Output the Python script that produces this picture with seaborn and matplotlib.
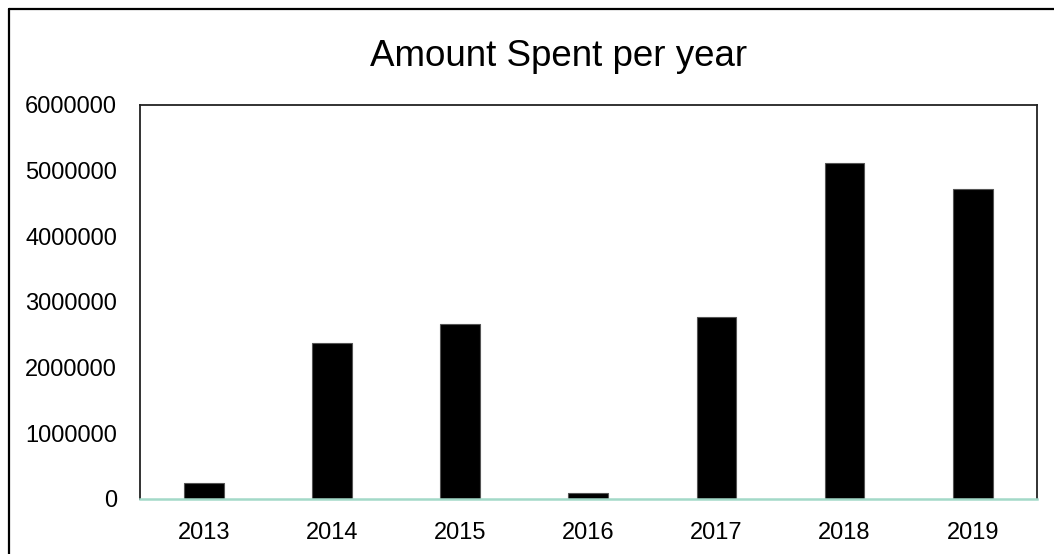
import numpy as np
import pandas as pd
import matplotlib
matplotlib.use("Agg")
import matplotlib.pyplot as plt
import seaborn as sns
from matplotlib.lines import Line2D

# values
years = ["2013", "2014", "2015", "2016", "2017", "2018", "2019"]
amount = [240000, 2375000, 2655000, 82000, 2765000, 5105000, 4710000]
y_ticks = [0, 1000000, 2000000, 3000000, 4000000, 5000000, 6000000]

df = pd.DataFrame({"year": years, "amount": amount})

sns.set_theme(style="white")
plt.rcParams["font.family"] = ["Liberation Sans", "DejaVu Sans"]

fig = plt.figure(figsize=(10.54, 5.54), dpi=100)
W, H = 1054, 554
ax = fig.add_axes([140 / W, 1 - 498.7 / H, (1036.7 - 140) / W, (498.7 - 104.7) / H])

sns.barplot(data=df, x="year", y="amount", color="black", width=0.31,
            edgecolor="#555555", linewidth=0.8, saturation=1, ax=ax)

ax.set_ylim(0, 6000000)
ax.set_xlim(-0.5, len(years) - 0.5)
ax.set_yticks(y_ticks)
ax.set_yticklabels([str(v) for v in y_ticks])
ax.set_xlabel("")
ax.set_ylabel("")
ax.tick_params(axis="y", length=0, pad=16.5, labelsize=17, colors="black")
ax.tick_params(axis="x", length=0, pad=17, labelsize=17, colors="black")

for side in ["left", "top", "right"]:
    ax.spines[side].set_color("#222222")
    ax.spines[side].set_linewidth(1.3)
ax.spines["bottom"].set_color("#a3d9c8")
ax.spines["bottom"].set_linewidth(1.8)

fig.text(559 / W, 1 - 56 / H, "Amount Spent per year", ha="center", va="center",
         fontsize=26.5, color="black")

# outer chart border (only left and top edges are visible in the crop)
fig.add_artist(Line2D([8.5 / W, 8.5 / W], [0, 1 - 8.5 / H], transform=fig.transFigure,
                      color="black", linewidth=1.6))
fig.add_artist(Line2D([8.5 / W, 1], [1 - 8.5 / H, 1 - 8.5 / H], transform=fig.transFigure,
                      color="black", linewidth=1.6))

fig.savefig("out.png", dpi=100, facecolor="white")
